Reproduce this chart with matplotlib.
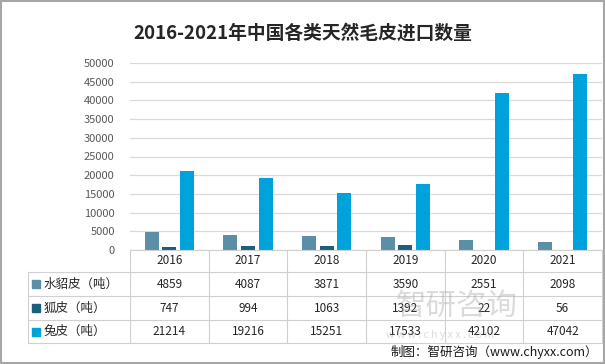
import matplotlib.pyplot as plt
import numpy as np
from matplotlib.lines import Line2D
from matplotlib.patches import Rectangle

plt.rcParams['font.family'] = ['Noto Sans CJK SC', 'DejaVu Sans']

# ---------------- Data ----------------
years = ["2016", "2017", "2018", "2019", "2020", "2021"]
series_names = ["水貂皮（吨）", "狐皮（吨）", "兔皮（吨）"]
mink = [4859, 4087, 3871, 3590, 2551, 2098]
fox = [747, 994, 1063, 1392, 22, 56]
rabbit = [21214, 19216, 15251, 17533, 42102, 47042]
colors = ["#5b8fa8", "#1b5f7f", "#00a2dc"]

W, H = 605, 364
fig = plt.figure(figsize=(W / 100, H / 100), dpi=100)

def fx(px):
    return px / W

def fy(py):
    return 1 - py / H

# plot area
left, right, top, bottom = 130, 602, 63, 250
ax = fig.add_axes([fx(left), fy(bottom), fx(right - left), fy(top) - fy(bottom)])

x = np.arange(len(years))
bw = 0.18
step = 0.225
for i, vals in enumerate([mink, fox, rabbit]):
    ax.bar(x + (i - 1) * step, vals, width=bw, color=colors[i], zorder=3)

ax.set_xlim(-0.5, len(years) - 0.5)
ax.set_ylim(0, 50000)
ax.set_yticks(np.arange(0, 50001, 5000))
ax.yaxis.grid(True, color="#d9d9d9", linewidth=0.9, zorder=0)
ax.set_xticks([])
for s in ["top", "right", "left", "bottom"]:
    ax.spines[s].set_visible(False)
ax.tick_params(axis="y", length=0, labelsize=8, labelcolor="#595959", pad=11)

# ---------------- Data table ----------------
row_y = [250, 272, 296, 320, 343]
tab_left = 28
col_w = (right - left) / len(years)
line_col = "#d0d0d0"

fig.add_artist(Line2D([fx(left), fx(right)], [fy(row_y[0])] * 2, color=line_col, lw=0.8))
for yy in row_y[1:]:
    fig.add_artist(Line2D([fx(tab_left), fx(right)], [fy(yy)] * 2, color=line_col, lw=0.8))
fig.add_artist(Line2D([fx(tab_left)] * 2, [fy(row_y[1]), fy(row_y[-1])], color=line_col, lw=0.8))
for j in range(len(years) + 1):
    xx = left + j * col_w
    fig.add_artist(Line2D([fx(xx)] * 2, [fy(row_y[0]), fy(row_y[-1])], color=line_col, lw=0.8))

for j, yr in enumerate(years):
    cx = left + (j + 0.5) * col_w
    fig.text(fx(cx), fy((row_y[0] + row_y[1]) / 2), yr, ha="center", va="center",
             fontsize=8.5, color="#262626")

for r, (name, vals) in enumerate(zip(series_names, [mink, fox, rabbit])):
    cy = (row_y[r + 1] + row_y[r + 2]) / 2
    fig.patches.append(Rectangle((fx(32), fy(cy + 4)), fx(8), fy(cy - 4) - fy(cy + 4),
                                 color=colors[r], transform=fig.transFigure, figure=fig))
    fig.text(fx(44), fy(cy), name, ha="left", va="center", fontsize=9, color="#262626")
    for j, v in enumerate(vals):
        cx = left + (j + 0.5) * col_w
        fig.text(fx(cx), fy(cy), str(v), ha="center", va="center", fontsize=8.5, color="#262626")

# ---------------- Title, watermark, source ----------------
fig.text(0.5, fy(33), "2016-2021年中国各类天然毛皮进口数量", ha="center", va="center",
         fontsize=13.5, fontweight="bold", color="#262626")

fig.text(fx(457), fy(306), "智研咨询", ha="center", va="center", fontsize=22,
         color="#9a9a9a", alpha=0.35, zorder=10)
fig.text(fx(440), fy(335), "w w w . c h y x x . c o m", ha="center", va="center",
         fontsize=7.5, color="#9a9a9a", alpha=0.35, zorder=10)

fig.text(fx(598), fy(352), "制图：智研咨询（www.chyxx.com）", ha="right", va="center",
         fontsize=9, color="#1a1a1a")

# border
fig.patches.append(Rectangle((0.001, 0.002), 0.997, 0.995, fill=False, edgecolor="#a6a6a6",
                             lw=1.5, transform=fig.transFigure, figure=fig))

fig.savefig("out.png", dpi=100)
